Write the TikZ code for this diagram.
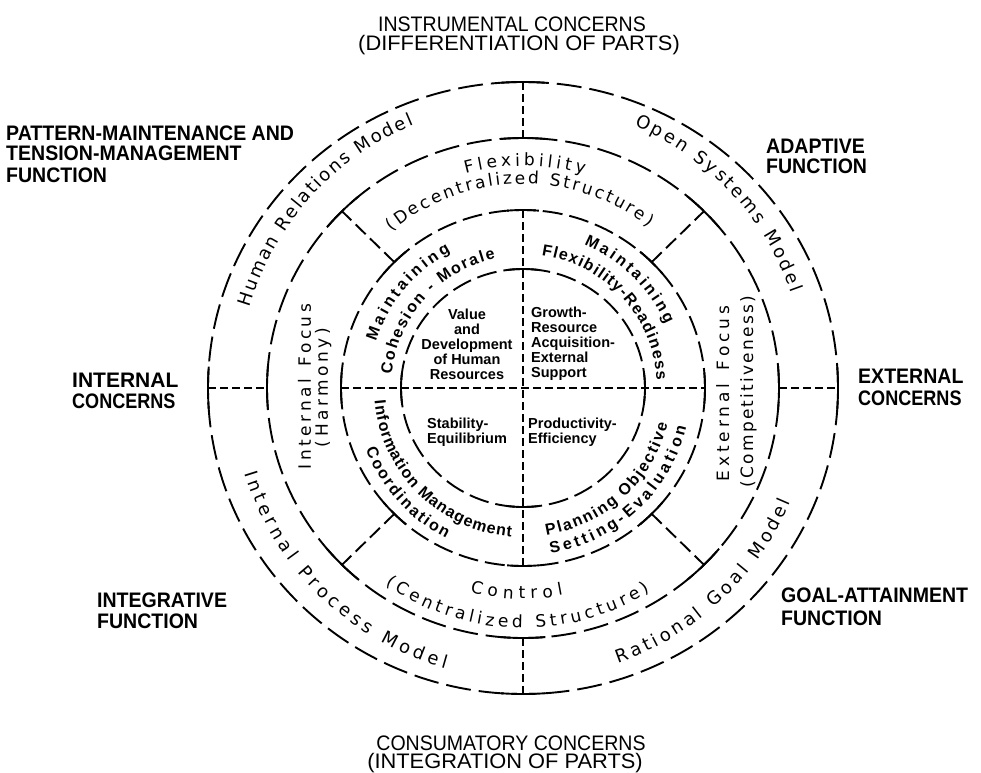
\documentclass[tikz,border=0pt]{standalone}
\usepackage{fontspec}
\setmainfont{Liberation Sans}
\newfontfamily\lsans{Liberation Sans}
\newfontfamily\dsans{DejaVu Sans}
\newfontfamily\capf[FakeStretch=0.93]{Liberation Sans}
\newfontfamily\capw[FakeStretch=1.0]{Liberation Sans}
\newfontfamily\capn[FakeStretch=0.86]{Liberation Sans}
\newfontfamily\capx[FakeStretch=1.04]{Liberation Sans}
\usetikzlibrary{decorations.text}
\newcommand\modelf{\dsans\fontsize{18}{21}\selectfont}
\newcommand\ringf{\dsans\fontsize{17}{20}\selectfont}
\newcommand\innf{\lsans\bfseries\fontsize{16}{19}\selectfont}
\newcommand\cenf{\lsans\bfseries\fontsize{14.5}{15}\selectfont}
\newcommand\jtick[4]{\draw[tickline] ({#1*cos(#3-#4)},{#2*sin(#3-#4)}) arc[start angle={#3-#4}, end angle={#3+#4}, x radius=#1pt, y radius=#2pt];}
\newcommand\arctext[5]{\path[decorate, decoration={text along path, text={|#5|#4}, text align={fit to path=true}}] (#1:#3pt) arc[start angle=#1, end angle=#2, radius=#3pt];}
\newcommand\linetext[3]{\path[decorate, decoration={text along path, text={|#3|#2}, text align={fit to path=true}}] #1;}
\tikzset{
  ringline/.style={line width=1.9pt, dash pattern=on 20pt off 7pt},
  ringbig/.style={line width=1.9pt, dash pattern=on 25pt off 8pt},
  axisline/.style={line width=1.7pt, dash pattern=on 8pt off 4pt},
  spoke/.style={line width=1.9pt, dash pattern=on 14pt off 6pt},
  tickline/.style={line width=1.9pt},
  lblb/.style={font=\capf\bfseries\fontsize{21}{21}\selectfont, inner sep=0pt},
  lblw/.style={font=\capw\bfseries\fontsize{21}{21}\selectfont, inner sep=0pt},
  lbln/.style={font=\capn\bfseries\fontsize{21}{21}\selectfont, inner sep=0pt},
  lblr/.style={font=\capf\fontsize{21}{21}\selectfont, inner sep=0pt},
  lblx/.style={font=\capx\fontsize{21}{21}\selectfont, inner sep=0pt},
  ctr/.style={font=\cenf, inner sep=0pt},
}
\begin{document}
\begin{tikzpicture}[x=1pt,y=1pt]
\path[use as bounding box, fill=white] (-523,-384) rectangle (458,388);
\coordinate (O) at (0,0);
% rings
\draw[ringline] (O) ellipse[x radius=122pt, y radius=119pt];
\draw[ringline] (O) ellipse[x radius=182pt, y radius=178pt];
\draw[ringbig] (O) ellipse[x radius=256pt, y radius=250pt];
\draw[ringbig] (O) ellipse[x radius=315pt, y radius=306pt];
% junction coordinates
\coordinate (n4) at (0,306);  \coordinate (n3) at (0,250);
\coordinate (n2) at (0,178);  \coordinate (s2) at (0,-178);
\coordinate (s3) at (0,-250); \coordinate (s4) at (0,-306);
\coordinate (w4) at (-315,0); \coordinate (w3) at (-256,0);
\coordinate (w2) at (-182,0); \coordinate (e2) at (182,0);
\coordinate (e3) at (256,0);  \coordinate (e4) at (315,0);
\coordinate (ne2) at (128.7,125.9);   \coordinate (ne3) at (181.0,176.8);
\coordinate (nw2) at (-128.7,125.9);  \coordinate (nw3) at (-181.0,176.8);
\coordinate (sw2) at (-128.7,-125.9); \coordinate (sw3) at (-181.0,-176.8);
\coordinate (se2) at (128.7,-125.9);  \coordinate (se3) at (181.0,-176.8);
% dividers
\draw[axisline] (n4) -- (n3);
\draw[axisline] (n2) -- (s2);
\draw[axisline] (s3) -- (s4);
\draw[axisline] (w4) -- (w3);
\draw[axisline] (w2) -- (e2);
\draw[axisline] (e3) -- (e4);
\draw[spoke] (ne2) -- (ne3);
\draw[spoke] (nw2) -- (nw3);
\draw[spoke] (sw2) -- (sw3);
\draw[spoke] (se2) -- (se3);
% junction ticks
\foreach \a in {0,90,180,270} {\jtick{315}{306}{\a}{4}}
\foreach \a in {0,45,...,315} {\jtick{256}{250}{\a}{5}}
\foreach \a in {0,45,...,315} {\jtick{182}{178}{\a}{5}}
\foreach \a in {0,90,180,270} {\jtick{122}{119}{\a}{7}}
% outer ring: models
\arctext{163.5}{112.5}{285}{Human Relations Model}{\modelf}
\arctext{67}{19.5}{285}{Open Systems Model}{\modelf}
\arctext{197}{254.5}{291}{Internal Process Model}{\modelf}
\arctext{289}{337}{291}{Rational Goal Model}{\modelf}
% second ring
\arctext{105}{74}{222}{Flexibility}{\ringf}
\arctext{130}{52}{204}{(Decentralized Structure)}{\ringf}
\arctext{255.5}{281}{211}{Control}{\ringf}
\arctext{235}{302}{240}{(Centralized Structure)}{\ringf}
\coordinate (if1) at (-212,-81);  \coordinate (if2) at (-212,84);
\coordinate (hm1) at (-195,-59);  \coordinate (hm2) at (-195,60);
\coordinate (ef1) at (206,-93);   \coordinate (ef2) at (206,82);
\coordinate (cp1) at (230,-99);   \coordinate (cp2) at (230,92);
\linetext{(if1) -- (if2)}{Internal Focus}{\ringf}
\linetext{(hm1) -- (hm2)}{(Harmony)}{\ringf}
\linetext{(ef1) -- (ef2)}{External Focus}{\ringf}
\linetext{(cp1) -- (cp2)}{(Competitiveness)}{\ringf}
% inner ring
\arctext{162.5}{118}{154}{Maintaining}{\innf}
\arctext{174}{102}{132}{Cohesion - Morale}{\innf}
\arctext{67}{24}{156}{Maintaining}{\innf}
\arctext{82}{3.5}{134}{Flexibility-Readiness}{\innf}
\arctext{185}{265.5}{149}{Information Management}{\innf}
\arctext{201.5}{243}{169}{Coordination}{\innf}
\arctext{279}{346}{149}{Planning Objective}{\innf}
\arctext{279.5}{346.5}{168}{Setting-Evaluation}{\innf}
% centre
\node[ctr, align=center] (val) at (-56,44) {Value\\and\\Development\\of Human\\Resources};
\node[ctr, align=left, anchor=west] (grow) at (8,44) {Growth-\\Resource\\Acquisition-\\External\\Support};
\node[ctr, align=left, anchor=west] (stab) at (-96,-44) {Stability-\\Equilibrium};
\node[ctr, align=left, anchor=west] (prod) at (5,-44) {Productivity-\\Efficiency};
% outer labels
\node[lblr, anchor=base] (ins1) at (-11,356) {INSTRUMENTAL CONCERNS};
\node[lblx, anchor=base] (ins2) at (-4,337) {(DIFFERENTIATION OF PARTS)};
\node[lblr, anchor=base] (con1) at (-12,-362) {CONSUMATORY CONCERNS};
\node[lblx, anchor=base] (con2) at (-18,-380) {(INTEGRATION OF PARTS)};
\node[lblb, anchor=base west] (pm1) at (-517,248) {PATTERN-MAINTENANCE AND};
\node[lblb, anchor=base west] (pm2) at (-517,228) {TENSION-MANAGEMENT};
\node[lblb, anchor=base west] (pm3) at (-517,206) {FUNCTION};
\node[lblb, anchor=base west] (ad1) at (243,235) {ADAPTIVE};
\node[lblb, anchor=base west] (ad2) at (243,215) {FUNCTION};
\node[lblw, anchor=base west] (ic1) at (-451,1) {INTERNAL};
\node[lbln, anchor=base west] (ic2) at (-451,-20) {CONCERNS};
\node[lblb, anchor=base west] (ec1) at (335,5) {EXTERNAL};
\node[lbln, anchor=base west] (ec2) at (335,-17) {CONCERNS};
\node[lblb, anchor=base west] (ig1) at (-426,-219) {INTEGRATIVE};
\node[lblb, anchor=base west] (ig2) at (-426,-240) {FUNCTION};
\node[lblb, anchor=base west] (ga1) at (258,-214) {GOAL-ATTAINMENT};
\node[lblb, anchor=base west] (ga2) at (258,-237) {FUNCTION};
\end{tikzpicture}
\end{document}
